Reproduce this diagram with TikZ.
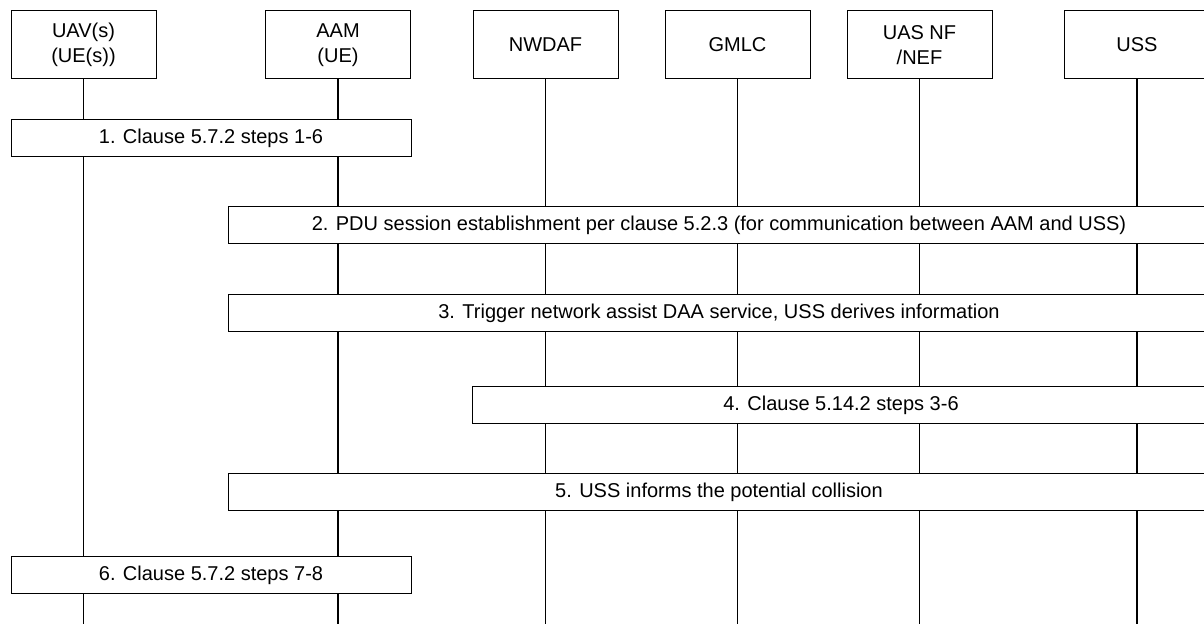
\documentclass[tikz,border=0pt]{standalone}
\usepackage{fontspec}
\setmainfont{Liberation Sans}
\usetikzlibrary{positioning}

\begin{document}
\begin{tikzpicture}[
  x=0.75pt, y=-0.75pt,
  entity/.style={rectangle, draw, line width=0.75pt, minimum width=108.75pt,
    minimum height=51pt, inner sep=0pt, align=center,
    font=\fontsize{15}{18.75}\selectfont},
  stepbox/.style={rectangle, draw, line width=0.75pt, fill=white,
    minimum width=#1, minimum height=27.75pt, inner sep=0pt,
    font=\fontsize{15}{18}\selectfont},
  stepbox/.default={300pt},
  lifeline/.style={line width=1.1pt},
]
\useasboundingbox (0,0) rectangle (1204,624);

% --- Entities ---
\node[entity] (uav)   at (83.5, 45)  {UAV(s)\\(UE(s))};
\node[entity] (aam)   at (338, 45)   {AAM\\(UE)};
\node[entity] (nwdaf) at (545.5, 45) {NWDAF};
\node[entity] (gmlc)  at (737.5, 45) {GMLC};
\node[entity] (uasnf) at (919.5, 45) {UAS NF\\/NEF};
\node[entity] (uss)   at (1137, 45)  {USS};

% --- Lifelines ---
\coordinate (base) at (0, 624);
\foreach \e in {uav, aam, nwdaf, gmlc, uasnf, uss}
  \draw[lifeline] (\e.south) -- (\e.south |- base);

% --- Steps ---
\node[stepbox] (s1) at (211, 138.5) {1. Clause 5.7.2 steps 1-6};
\node[stepbox=736.5pt] (s2) at (719, 225.5)
  {2. PDU session establishment per clause 5.2.3 (for communication between AAM and USS)};
\node[stepbox=736.5pt] (s3) at (719, 313)
  {3. Trigger network assist DAA service, USS derives information};
\node[stepbox=553.5pt] (s4) at (841, 405) {4. Clause 5.14.2 steps 3-6};
\node[stepbox=736.5pt] (s5) at (719, 492)
  {5. USS informs the potential collision};
\node[stepbox] (s6) at (211, 575) {6. Clause 5.7.2 steps 7-8};

\end{tikzpicture}
\end{document}
